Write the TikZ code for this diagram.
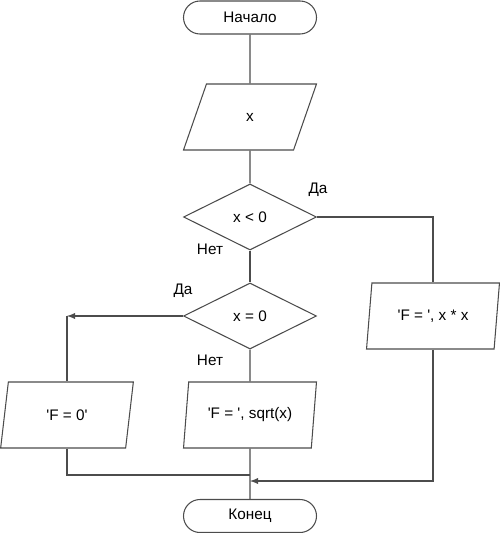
\documentclass[tikz,border=0pt]{standalone}
\usepackage{fontspec}
\setmainfont{Liberation Sans}
\usetikzlibrary{shapes.geometric,shapes.misc}
\newcommand{\qt}{\textquotesingle}

\tikzset{
  every node/.style={font=\fontsize{8.7}{10}\selectfont},
  line/.style={draw=black!70,line width=0.6pt},
  term/.style={line,rounded rectangle,minimum width=2.66cm,minimum height=0.66cm,inner sep=0pt},
  io/.style={line,trapezium,trapezium left angle=76,trapezium right angle=104,
    trapezium stretches=true,minimum width=2.66cm,minimum height=1.32cm,inner sep=0pt},
  cond/.style={line,diamond,aspect=2,minimum width=2.66cm,minimum height=1.32cm,inner sep=0pt},
  lbl/.style={font=\fontsize{8.7}{10}\selectfont}
}

\begin{document}
\begin{tikzpicture}

\useasboundingbox (0,0) rectangle (10,-10.66);

\node[term] (start)   at (5,-0.35) {Начало};
\node[io]   (input)   at (5,-2.34) {x};
\node[cond] (neg)     at (5,-4.34) {x < 0};
\node[io]   (outsq)   at (8.66,-6.32) {\qt F = \qt, x * x};
\node[cond] (zero)    at (5,-6.32) {x = 0};
\node[io]   (outzero) at (1.34,-8.3) {\qt F = 0\qt};
\node[io]   (outsqrt) at (5,-8.3) {\qt F = \qt, sqrt(x)};
\node[term] (stop)    at (5,-10.32) {Конец};

\coordinate (left)  at (outzero.north |- zero.west);
\coordinate (join1) at (5,-9.5);
\coordinate (join2) at (5,-9.62);

\draw[line] (start) -- (input);
\draw[line] (input) -- (neg);
\draw[line] (neg.east) -| (outsq.north);
\draw[line] (neg.south) -- (zero.north);
\draw[line,-latex] (zero.west) -- (left);
\draw[line] (left) -- (outzero.north);
\draw[line] (zero.south) -- (outsqrt.north);
\draw[line] (outzero.south) |- (join1);
\draw[line] (outsqrt.south) -- (stop.north);
\draw[line,-latex] (outsq.south) |- (join2);

\node[lbl] (yes1) at (6.36,-3.8)  {Да};
\node[lbl] (no1)  at (4.2,-4.98)  {Нет};
\node[lbl] (yes2) at (3.66,-5.82) {Да};
\node[lbl] (no2)  at (4.2,-7.2)   {Нет};

\end{tikzpicture}
\end{document}
